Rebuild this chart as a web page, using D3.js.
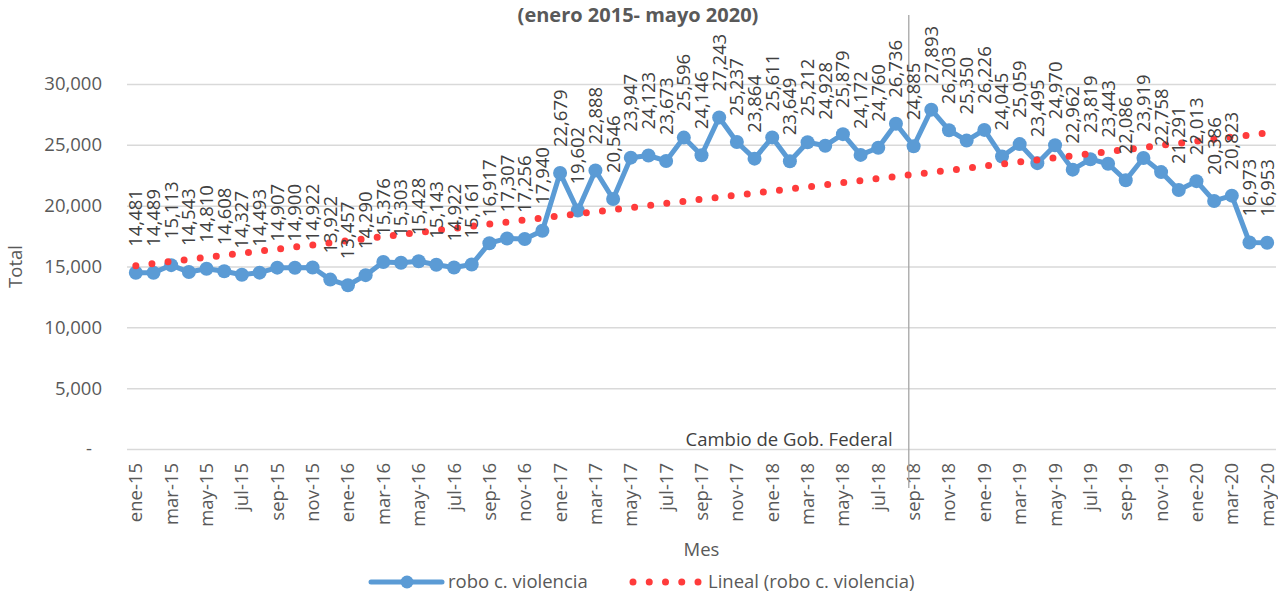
<!DOCTYPE html>
<html><head><meta charset="utf-8">
<script src="https://cdn.jsdelivr.net/npm/d3@7/dist/d3.min.js"></script>
<style>
body{margin:0;background:#fff}
svg{display:block}
text{font-family:"Open Sans","Noto Sans",sans-serif}
</style>
</head><body>
<svg id="c" width="1278" height="593"></svg>
<script>
const months = ["ene-15","feb-15","mar-15","abr-15","may-15","jun-15","jul-15","ago-15","sep-15","oct-15","nov-15","dic-15",
"ene-16","feb-16","mar-16","abr-16","may-16","jun-16","jul-16","ago-16","sep-16","oct-16","nov-16","dic-16",
"ene-17","feb-17","mar-17","abr-17","may-17","jun-17","jul-17","ago-17","sep-17","oct-17","nov-17","dic-17",
"ene-18","feb-18","mar-18","abr-18","may-18","jun-18","jul-18","ago-18","sep-18","oct-18","nov-18","dic-18",
"ene-19","feb-19","mar-19","abr-19","may-19","jun-19","jul-19","ago-19","sep-19","oct-19","nov-19","dic-19",
"ene-20","feb-20","mar-20","abr-20","may-20"];
const values = [14481,14489,15113,14543,14810,14608,14327,14493,14907,14900,14922,13922,
13457,14290,15376,15303,15428,15143,14922,15161,16917,17307,17256,17940,
22679,19602,22888,20546,23947,24123,23673,25596,24146,27243,25237,23864,
25611,23649,25212,24928,25879,24172,24760,26736,24885,27893,26203,25350,
26226,24045,25059,23495,24970,22962,23819,23443,22086,23919,22758,21291,
22013,20386,20823,16973,16953];
const yTicks = [0,5000,10000,15000,20000,25000,30000];
const seriesName = "robo c. violencia";
const trendName = "Lineal (robo c. violencia)";
const markerMonth = "sep-18";
const markerText = "Cambio de Gob. Federal";
const titleText = "(enero 2015- mayo 2020)";

const FS = 18.5;
const svg = d3.select("#c");
const L = 127, R = 1276, T = 84, B = 449;
const x = d3.scaleBand().domain(months).range([L, R]).padding(0);
const xc = m => x(m) + x.bandwidth()/2;
const y = d3.scaleLinear().domain([0, 30000]).range([B, T]);

// title (top line of the original title is outside the picture)
svg.append("text").attr("x", 638).attr("y", 22).attr("text-anchor","middle")
  .attr("font-size", 20).attr("font-weight","bold").attr("fill","#595959").text(titleText);

// y grid + labels
const yAxis = svg.append("g").attr("transform", `translate(${L},0)`)
  .call(d3.axisLeft(y).tickValues(yTicks).tickSize(-(R-L)).tickPadding(25)
    .tickFormat(d => d === 0 ? "-" : d3.format(",")(d)));
yAxis.select(".domain").remove();
yAxis.selectAll(".tick line").attr("stroke","#D9D9D9").attr("stroke-width",1.5);
yAxis.selectAll(".tick text").attr("font-size",FS).attr("fill","#595959")
  .attr("font-family",'"Open Sans",sans-serif');
yAxis.selectAll(".tick text").filter(d => d === 0).attr("x", -35);

// x labels
const xAxis = svg.append("g").attr("transform", `translate(0,${B})`)
  .call(d3.axisBottom(x).tickValues(months.filter((m,i)=>i%2===0)).tickSize(0).tickPadding(0));
xAxis.select(".domain").remove();
xAxis.selectAll(".tick text").attr("font-size",FS).attr("fill","#595959")
  .attr("font-family",'"Open Sans",sans-serif')
  .attr("transform","rotate(-90)").attr("text-anchor","end")
  .attr("x",-14).attr("y",0).attr("dy","0.35em");

// axis titles
svg.append("text").attr("transform",`translate(22,${(T+B)/2}) rotate(-90)`).attr("text-anchor","middle")
  .attr("font-size",FS).attr("fill","#595959").text("Total");
svg.append("text").attr("x",(L+R)/2).attr("y",556).attr("text-anchor","middle")
  .attr("font-size",FS).attr("fill","#595959").text("Mes");

// vertical marker line
const vx = x(markerMonth) + 4;
svg.append("line").attr("x1",vx).attr("x2",vx).attr("y1",15).attr("y2",488)
  .attr("stroke","#A6A6A6").attr("stroke-width",1.3);
svg.append("text").attr("x",vx-16).attr("y",446).attr("text-anchor","end")
  .attr("font-size",FS).attr("fill","#404040").text(markerText);

// series line
const pts = months.map((m,i)=>({m, v: values[i], i}));
svg.append("path").datum(pts).attr("fill","none").attr("stroke","#5B9BD5").attr("stroke-width",5)
  .attr("stroke-linejoin","round")
  .attr("d", d3.line().x(d=>xc(d.m)).y(d=>y(d.v)));
svg.selectAll("circle.pt").data(pts).join("circle").attr("class","pt")
  .attr("cx",d=>xc(d.m)).attr("cy",d=>y(d.v)).attr("r",7).attr("fill","#5B9BD5");

// linear trend (least squares)
const mx = d3.mean(pts, d=>d.i), my = d3.mean(values);
const slope = d3.sum(pts, d=>(d.i-mx)*(d.v-my)) / d3.sum(pts, d=>(d.i-mx)*(d.i-mx));
const icpt = my - slope*mx;
const trend = pts.map(d=>({m:d.m, v: icpt + slope*d.i}));
svg.append("path").datum(trend).attr("fill","none").attr("stroke","#FF3B3B").attr("stroke-width",7)
  .attr("stroke-linecap","round").attr("stroke-dasharray","0,16.2")
  .attr("d", d3.line().x(d=>xc(d.m)).y(d=>y(d.v)));

// data labels
svg.selectAll("text.lbl").data(pts).join("text").attr("class","lbl")
  .attr("transform", d=>`translate(${xc(d.m)},${y(d.v)-26}) rotate(-90)`)
  .attr("dy","0.35em").attr("text-anchor","start")
  .attr("font-size",FS).attr("fill","#404040").text(d=>d3.format(",")(d.v));

// legend
const lg = svg.append("g").attr("transform","translate(0,582)");
lg.append("line").attr("x1",371).attr("x2",442).attr("y1",0).attr("y2",0)
  .attr("stroke","#5B9BD5").attr("stroke-width",5).attr("stroke-linecap","round");
lg.append("circle").attr("cx",407).attr("cy",0).attr("r",6.5).attr("fill","#5B9BD5");
lg.append("text").attr("x",448).attr("y",0).attr("dy","0.35em").attr("font-size",FS)
  .attr("fill","#595959").text(seriesName);
lg.append("line").attr("x1",633).attr("x2",701).attr("y1",0).attr("y2",0)
  .attr("stroke","#FF3B3B").attr("stroke-width",7).attr("stroke-linecap","round")
  .attr("stroke-dasharray","0,16.25");
lg.append("text").attr("x",708).attr("y",0).attr("dy","0.35em").attr("font-size",FS)
  .attr("fill","#595959").text(trendName);
</script>
</body></html>
